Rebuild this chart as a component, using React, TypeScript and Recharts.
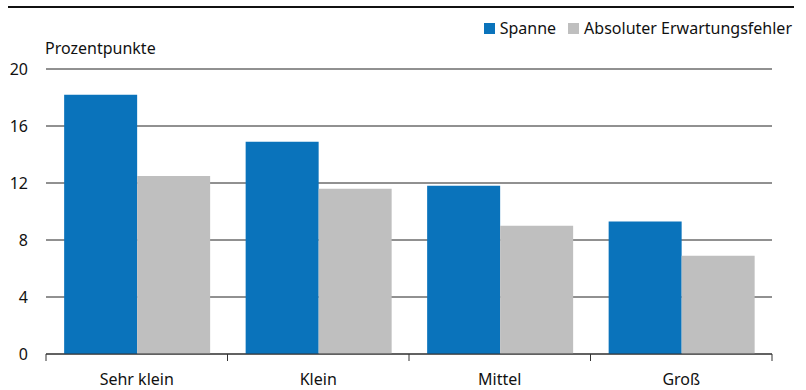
import { BarChart, Bar, XAxis, YAxis, CartesianGrid } from "recharts"

const categories = ["Sehr klein", "Klein", "Mittel", "Groß"]
const spanne = [18.2, 14.9, 11.8, 9.3]
const erwartungsfehler = [12.5, 11.6, 9.0, 6.9]
const yTicks = [0, 4, 8, 12, 16, 20]

const data = categories.map((name, i) => ({
  name,
  spanne: spanne[i],
  fehler: erwartungsfehler[i],
}))

const WIDTH = 806
const HEIGHT = 390
const X_AXIS_HEIGHT = 30
const MARGIN = { top: 69, right: 34, bottom: 36 - X_AXIS_HEIGHT, left: 0 }
const Y_AXIS_WIDTH = 46
const FONT = "'Noto Sans', sans-serif"
const TEXT = "#111"
const BLUE = "#0a73bb"
const GRAY = "#bfbfbf"

const bandWidth = (WIDTH - MARGIN.left - MARGIN.right - Y_AXIS_WIDTH) / categories.length

// category label plus separator ticks on the band edges
function CategoryTick(props: any) {
  const { x, y, payload, index } = props
  const left = x - bandWidth / 2
  const right = x + bandWidth / 2
  return (
    <g>
      <line x1={left} x2={left} y1={y} y2={y + 7} stroke="#333" />
      {index === categories.length - 1 && <line x1={right} x2={right} y1={y} y2={y + 7} stroke="#333" />}
      <text x={x} y={y + 31} textAnchor="middle" fill={TEXT} fontSize={16} fontFamily={FONT}>
        {payload.value}
      </text>
    </g>
  )
}

const legendItems = [
  { label: "Spanne", color: BLUE },
  { label: "Absoluter Erwartungsfehler", color: GRAY },
]

export default function App() {
  return (
    <div style={{ position: "absolute", left: 0, top: 0, width: WIDTH, height: HEIGHT, background: "#fff" }}>
      <div style={{ position: "absolute", left: 8, top: 6, width: 786, height: 2, background: "#111" }} />
      <div
        style={{
          position: "absolute",
          right: 14,
          top: 17,
          display: "flex",
          alignItems: "center",
          fontFamily: FONT,
          fontSize: 16,
          color: TEXT,
        }}
      >
        {legendItems.map((it) => (
          <div key={it.label} style={{ display: "flex", alignItems: "center", marginLeft: 12 }}>
            <span style={{ width: 11, height: 11, background: it.color, marginRight: 5, display: "inline-block" }} />
            <span>{it.label}</span>
          </div>
        ))}
      </div>
      <div style={{ position: "absolute", left: 45, top: 37, fontFamily: FONT, fontSize: 16, color: TEXT }}>
        Prozentpunkte
      </div>
      <BarChart width={WIDTH} height={HEIGHT} data={data} margin={MARGIN} barCategoryGap="10%" barGap={0}>
        <CartesianGrid vertical={false} stroke="#222" />
        <XAxis
          dataKey="name"
          height={X_AXIS_HEIGHT}
          tick={<CategoryTick />}
          tickLine={false}
          tickSize={0}
          tickMargin={0}
          axisLine={{ stroke: "#333" }}
          interval={0}
        />
        <YAxis
          width={Y_AXIS_WIDTH}
          domain={[0, 20]}
          ticks={yTicks}
          tickLine={false}
          axisLine={false}
          tickSize={0}
          tickMargin={18}
          tick={{ fill: TEXT, fontSize: 16, fontFamily: FONT }}
        />
        <Bar dataKey="spanne" name="Spanne" fill={BLUE} isAnimationActive={false} />
        <Bar dataKey="fehler" name="Absoluter Erwartungsfehler" fill={GRAY} isAnimationActive={false} />
      </BarChart>
    </div>
  )
}
